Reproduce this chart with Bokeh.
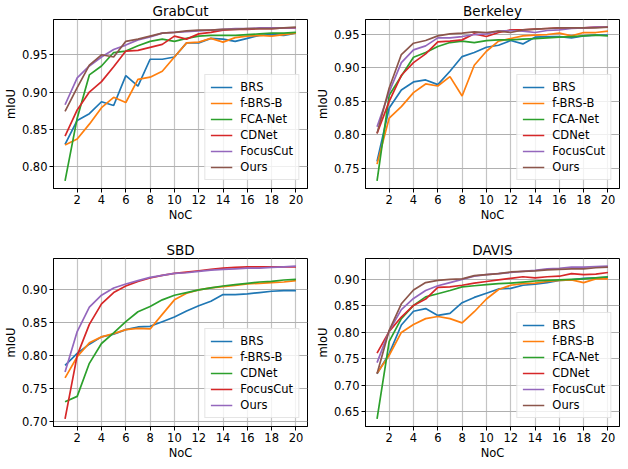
from bokeh.plotting import figure
from bokeh.layouts import column, row
from bokeh.models import FixedTicker, NumeralTickFormatter, Range1d
from bokeh.embed import file_html
from bokeh.resources import INLINE

noc = list(range(1, 21))
x_ticks = [2, 4, 6, 8, 10, 12, 14, 16, 18, 20]

# ---------------- GrabCut ----------------
grab_names = ["BRS", "f-BRS-B", "FCA-Net", "CDNet", "FocusCut", "Ours"]
grab_brs = [0.830, 0.862, 0.871, 0.887, 0.882, 0.922, 0.908, 0.944, 0.944, 0.947,
            0.966, 0.966, 0.972, 0.971, 0.968, 0.972, 0.976, 0.977, 0.976, 0.979]
grab_fbrs = [0.829, 0.837, 0.857, 0.879, 0.893, 0.886, 0.917, 0.920, 0.928, 0.947,
             0.966, 0.967, 0.972, 0.967, 0.973, 0.975, 0.976, 0.975, 0.977, 0.979]
grab_fca = [0.781, 0.865, 0.923, 0.935, 0.953, 0.955, 0.962, 0.968, 0.971, 0.968,
            0.972, 0.975, 0.976, 0.976, 0.976, 0.977, 0.978, 0.979, 0.979, 0.980]
grab_cdnet = [0.841, 0.876, 0.900, 0.914, 0.934, 0.955, 0.956, 0.960, 0.964, 0.975,
              0.971, 0.978, 0.980, 0.983, 0.984, 0.984, 0.985, 0.985, 0.986, 0.986]
grab_focus = [0.883, 0.919, 0.935, 0.947, 0.957, 0.963, 0.970, 0.974, 0.979, 0.980,
              0.981, 0.982, 0.983, 0.984, 0.985, 0.985, 0.986, 0.986, 0.986, 0.986]
grab_ours = [0.874, 0.906, 0.936, 0.950, 0.947, 0.968, 0.971, 0.975, 0.979, 0.980,
             0.982, 0.983, 0.983, 0.984, 0.984, 0.985, 0.985, 0.985, 0.986, 0.987]

# ---------------- Berkeley ----------------
berk_names = ["BRS", "f-BRS-B", "FCA-Net", "CDNet", "FocusCut", "Ours"]
berk_brs = [0.760, 0.840, 0.867, 0.879, 0.882, 0.875, 0.895, 0.917, 0.923, 0.931,
            0.934, 0.941, 0.936, 0.946, 0.947, 0.947, 0.945, 0.948, 0.949, 0.949]
berk_fbrs = [0.756, 0.825, 0.842, 0.863, 0.876, 0.873, 0.887, 0.858, 0.904, 0.925,
             0.940, 0.944, 0.948, 0.949, 0.950, 0.952, 0.948, 0.953, 0.953, 0.955]
berk_fca = [0.731, 0.859, 0.888, 0.916, 0.923, 0.932, 0.938, 0.940, 0.938, 0.941,
            0.942, 0.942, 0.943, 0.944, 0.945, 0.946, 0.947, 0.948, 0.949, 0.948]
berk_cdnet = [0.802, 0.850, 0.889, 0.908, 0.921, 0.939, 0.940, 0.942, 0.951, 0.947,
              0.953, 0.957, 0.957, 0.958, 0.959, 0.960, 0.960, 0.960, 0.961, 0.961]
berk_focus = [0.812, 0.864, 0.908, 0.927, 0.933, 0.945, 0.945, 0.947, 0.950, 0.951,
              0.955, 0.956, 0.955, 0.953, 0.956, 0.957, 0.959, 0.960, 0.961, 0.961]
berk_ours = [0.802, 0.870, 0.920, 0.937, 0.941, 0.948, 0.951, 0.952, 0.954, 0.953,
             0.955, 0.953, 0.957, 0.958, 0.959, 0.960, 0.960, 0.960, 0.960, 0.961]

# ---------------- SBD ----------------
sbd_names = ["BRS", "f-BRS-B", "CDNet", "FocusCut", "Ours"]
sbd_brs = [0.785, 0.803, 0.817, 0.828, 0.832, 0.839, 0.843, 0.844, 0.851, 0.858,
           0.867, 0.875, 0.882, 0.892, 0.892, 0.893, 0.895, 0.897, 0.898, 0.898]
sbd_fbrs = [0.766, 0.798, 0.819, 0.828, 0.833, 0.839, 0.841, 0.840, 0.862, 0.884,
            0.894, 0.899, 0.902, 0.904, 0.906, 0.908, 0.909, 0.910, 0.911, 0.913]
sbd_cdnet = [0.730, 0.738, 0.788, 0.818, 0.834, 0.851, 0.866, 0.874, 0.884, 0.891,
             0.895, 0.899, 0.902, 0.905, 0.907, 0.909, 0.911, 0.912, 0.914, 0.915]
sbd_focus = [0.704, 0.800, 0.847, 0.878, 0.895, 0.905, 0.912, 0.917, 0.921, 0.924,
             0.926, 0.928, 0.930, 0.932, 0.933, 0.934, 0.934, 0.934, 0.934, 0.934]
sbd_ours = [0.775, 0.836, 0.873, 0.891, 0.902, 0.908, 0.913, 0.918, 0.921, 0.924,
            0.925, 0.927, 0.929, 0.930, 0.931, 0.932, 0.932, 0.933, 0.934, 0.935]

# ---------------- DAVIS ----------------
davis_names = ["BRS", "f-BRS-B", "FCA-Net", "CDNet", "FocusCut", "Ours"]
davis_brs = [0.722, 0.760, 0.814, 0.840, 0.845, 0.832, 0.836, 0.856, 0.866, 0.874,
             0.882, 0.883, 0.889, 0.891, 0.894, 0.898, 0.899, 0.902, 0.903, 0.904]
davis_fbrs = [0.723, 0.757, 0.800, 0.815, 0.826, 0.830, 0.826, 0.818, 0.839, 0.863,
              0.881, 0.889, 0.892, 0.893, 0.896, 0.898, 0.899, 0.894, 0.901, 0.901]
davis_fca = [0.637, 0.783, 0.826, 0.851, 0.867, 0.873, 0.879, 0.886, 0.888, 0.890,
             0.892, 0.893, 0.895, 0.897, 0.898, 0.899, 0.900, 0.901, 0.903, 0.905]
davis_cdnet = [0.761, 0.802, 0.829, 0.851, 0.863, 0.885, 0.886, 0.889, 0.893, 0.896,
               0.899, 0.902, 0.905, 0.903, 0.905, 0.906, 0.911, 0.909, 0.910, 0.913]
davis_focus = [0.743, 0.803, 0.843, 0.864, 0.879, 0.888, 0.894, 0.900, 0.906, 0.909,
               0.911, 0.913, 0.915, 0.917, 0.920, 0.921, 0.923, 0.923, 0.924, 0.925]
davis_ours = [0.722, 0.804, 0.854, 0.880, 0.894, 0.898, 0.900, 0.901, 0.907, 0.909,
              0.911, 0.914, 0.915, 0.916, 0.918, 0.919, 0.920, 0.920, 0.922, 0.923]

COLORS = ["#1f77b4", "#ff7f0e", "#2ca02c", "#d62728", "#9467bd", "#8c564b"]
FONT = "DejaVu Sans"


def make_plot(title, names, series, fw, fh, top, bottom, left, right):
    lo = min(min(s) for s in series)
    hi = max(max(s) for s in series)
    pad = 0.05 * (hi - lo)
    p = figure(frame_width=fw, frame_height=fh, output_backend="svg", toolbar_location=None,
               x_range=Range1d(0.05, 20.95), y_range=Range1d(lo - pad, hi + pad),
               min_border_top=top, min_border_bottom=bottom,
               min_border_left=left, min_border_right=right)
    p.title.text = title
    p.title.align = "center"
    p.title.text_font = FONT
    p.title.text_font_size = "13.5px"
    p.title.text_font_style = "normal"
    p.title.standoff = 1
    p.title.text_color = "black"
    for i, (nm, s) in enumerate(zip(names, series)):
        p.line(noc, s, line_color=COLORS[i], line_width=1.7, legend_label=nm)
    yt = [round(0.05 * k, 2) for k in range(10, 21) if lo - pad <= 0.05 * k <= hi + pad]
    p.xaxis.ticker = FixedTicker(ticks=x_ticks)
    p.yaxis.ticker = FixedTicker(ticks=yt)
    p.yaxis.formatter = NumeralTickFormatter(format="0.00")
    p.xaxis.axis_label = "NoC"
    p.yaxis.axis_label = "mIoU"
    for ax in (p.xaxis, p.yaxis):
        ax.axis_label_text_font = FONT
        ax.axis_label_text_font_size = "11.5px"
        ax.axis_label_text_font_style = "normal"
        ax.axis_label_text_color = "black"
        ax.major_label_text_font = FONT
        ax.major_label_text_font_size = "11.5px"
        ax.major_label_text_color = "black"
        ax.axis_line_color = "black"
        ax.major_tick_line_color = "black"
        ax.major_tick_out = 4
        ax.major_tick_in = 0
        ax.minor_tick_line_color = None
        ax.major_label_standoff = 2
        ax.axis_label_standoff = 1
    p.outline_line_color = "black"
    p.outline_line_alpha = 1
    p.xgrid.grid_line_color = "#c4c4c4"
    p.xgrid.grid_line_width = 1.2
    p.ygrid.grid_line_color = "#b0b0b0"
    p.ygrid.grid_line_width = 1
    lg = p.legend[0]
    lg.location = "bottom_right"
    lg.margin = 8
    lg.padding = 5
    lg.spacing = 2
    lg.glyph_height = 14
    lg.label_height = 14
    lg.glyph_width = 22
    lg.label_standoff = 8
    lg.label_text_font = FONT
    lg.label_text_font_size = "11.5px"
    lg.label_text_color = "black"
    lg.border_line_color = "#cccccc"
    lg.border_line_width = 1
    lg.background_fill_alpha = 0.8
    return p


p1 = make_plot("GrabCut", grab_names,
               [grab_brs, grab_fbrs, grab_fca, grab_cdnet, grab_focus, grab_ours],
               254, 169, 16, 51, 47, 5)
p2 = make_plot("Berkeley", berk_names,
               [berk_brs, berk_fbrs, berk_fca, berk_cdnet, berk_focus, berk_ours],
               254, 169, 16, 51, 47, 5)
p3 = make_plot("SBD", sbd_names,
               [sbd_brs, sbd_fbrs, sbd_cdnet, sbd_focus, sbd_ours],
               254, 168, 18, 31, 47, 5)
p4 = make_plot("DAVIS", davis_names,
               [davis_brs, davis_fbrs, davis_fca, davis_cdnet, davis_focus, davis_ours],
               254, 168, 18, 31, 47, 5)

layout = column(row(p1, p2), row(p3, p4))
open("out.html", "w").write(file_html(layout, INLINE))
